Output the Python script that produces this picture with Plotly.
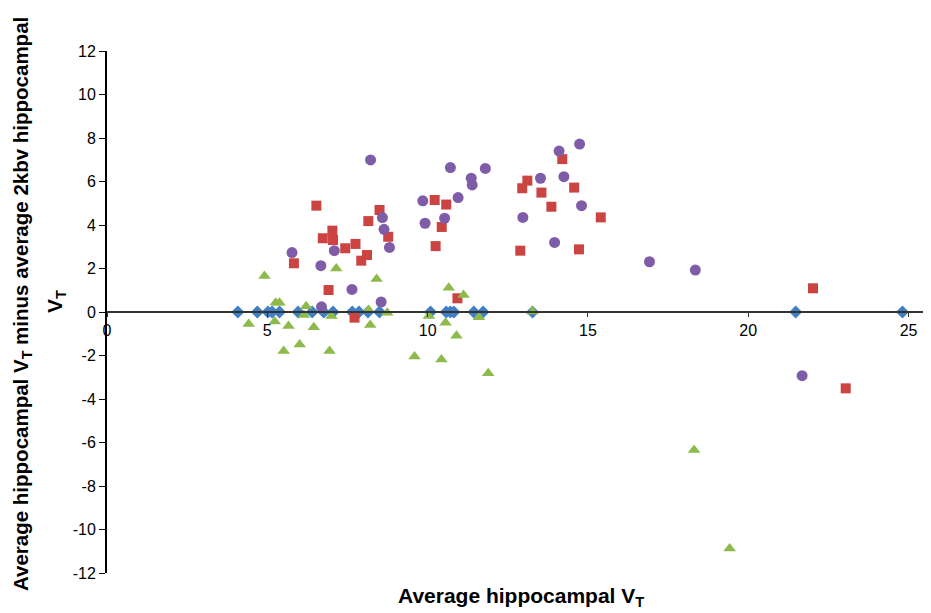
import plotly.graph_objects as go

# Series data (x = average hippocampal VT, y = difference vs 2kbv)
diamond_x = [4.08, 4.69, 5.02, 5.15, 5.38, 5.96, 6.40, 6.76, 7.05, 7.65, 7.86, 8.14, 8.50,
             10.09, 10.58, 10.71, 10.82, 11.44, 11.73, 13.27, 21.48, 24.81]
diamond_y = [0.0] * len(diamond_x)

square_x = [6.53, 5.83, 6.73, 7.03, 7.05, 7.43, 7.75, 8.11, 7.93, 8.15, 8.50, 8.77, 6.91, 7.72,
            10.22, 10.58, 10.44, 10.25, 10.93, 12.89, 12.95, 13.11, 13.55, 13.86, 14.20, 14.57,
            14.72, 15.40, 22.02, 23.04]
square_y = [4.89, 2.24, 3.39, 3.74, 3.31, 2.93, 3.13, 2.62, 2.36, 4.18, 4.69, 3.46, 1.01, -0.26,
            5.15, 4.94, 3.91, 3.03, 0.63, 2.82, 5.69, 6.04, 5.49, 4.84, 7.03, 5.72,
            2.88, 4.35, 1.09, -3.51]

triangle_x = [4.91, 4.42, 5.26, 5.38, 5.23, 5.66, 5.51, 6.01, 6.21, 6.14, 6.45, 6.94, 7.00, 7.15,
              8.16, 8.21, 8.41, 8.74, 9.59, 10.04, 10.43, 10.56, 10.66, 11.12, 10.90, 11.60,
              11.89, 13.27, 18.31, 19.42]
triangle_y = [1.66, -0.55, 0.43, 0.43, -0.44, -0.64, -1.79, -1.49, 0.27, -0.14, -0.70, -1.79, -0.18, 2.0,
              0.09, -0.60, 1.52, -0.03, -2.05, -0.18, -2.18, -0.49, 1.12, 0.78, -1.09, -0.24,
              -2.82, 0.02, -6.34, -10.87]

circle_x = [8.22, 5.77, 7.09, 6.67, 7.64, 6.69, 8.55, 8.59, 8.64, 8.81, 9.85, 9.92, 10.53, 10.71,
            10.95, 11.36, 11.39, 11.80, 12.97, 13.52, 13.96, 14.10, 14.25, 14.74, 14.80, 16.92,
            18.35, 21.68]
circle_y = [6.99, 2.73, 2.82, 2.13, 1.04, 0.24, 0.46, 4.34, 3.80, 2.97, 5.11, 4.08, 4.31, 6.64,
            5.26, 6.15, 5.84, 6.60, 4.35, 6.15, 3.20, 7.40, 6.22, 7.72, 4.89, 2.31,
            1.93, -2.93]

y_ticks = list(range(-12, 13, 2))
x_ticks = [0, 5, 10, 15, 20, 25]

fig = go.Figure()
fig.add_trace(go.Scatter(x=diamond_x, y=diamond_y, mode="markers",
                         marker=dict(symbol="diamond", size=10, color="#3F7FC6")))
fig.add_trace(go.Scatter(x=square_x, y=square_y, mode="markers",
                         marker=dict(symbol="square", size=10, color="#CB4441")))
fig.add_trace(go.Scatter(x=circle_x, y=circle_y, mode="markers",
                         marker=dict(symbol="circle", size=11, color="#7F5CA8")))
fig.add_trace(go.Scatter(x=triangle_x, y=triangle_y, mode="markers",
                         marker=dict(symbol="triangle-up", size=11, color="#8DBA4A")))

# page has an 8px body margin; figure is sized/offset to compensate
fig.update_layout(
    width=923, height=605,
    margin=dict(l=99, r=0, t=43, b=40, autoexpand=False),
    paper_bgcolor="white", plot_bgcolor="white",
    showlegend=False,
    font=dict(family="Liberation Sans, Arial, sans-serif", color="black"),
    xaxis=dict(range=[0, 25.7], tickvals=x_ticks, ticktext=[str(v) for v in x_ticks],
               anchor="free", position=0.5, showline=True, linecolor="#333", linewidth=1.5,
               ticks="outside", ticklen=4, tickcolor="#333", showgrid=False, zeroline=False,
               tickfont=dict(size=16, color="black")),
    yaxis=dict(range=[-12, 12], tickvals=y_ticks, ticktext=[str(v) for v in y_ticks],
               showline=True, linecolor="black", linewidth=2, ticks="outside", ticklen=6,
               tickcolor="black", showgrid=False, zeroline=False,
               tickfont=dict(size=16, color="black")),
)

fig.add_annotation(text="<b>Average hippocampal V<sub>T</sub></b>", xref="paper", yref="paper",
                   x=0.5, y=0, xanchor="center", yanchor="middle",
                   xshift=2, yshift=-24, showarrow=False,
                   font=dict(size=21, color="black"))
fig.add_annotation(text="<b>Average hippocampal V<sub>T</sub> minus average 2kbv hippocampal</b>",
                   xref="paper", yref="paper", x=0, y=0.5, xanchor="center", yanchor="middle",
                   xshift=-85, yshift=8, textangle=-90, showarrow=False,
                   font=dict(size=20.5, color="black"))
fig.add_annotation(text="<b>V<sub>T</sub></b>",
                   xref="paper", yref="paper", x=0, y=0.5, xanchor="center", yanchor="middle",
                   xshift=-51, yshift=10, textangle=-90, showarrow=False,
                   font=dict(size=21, color="black"))

fig.write_html("out.html")
